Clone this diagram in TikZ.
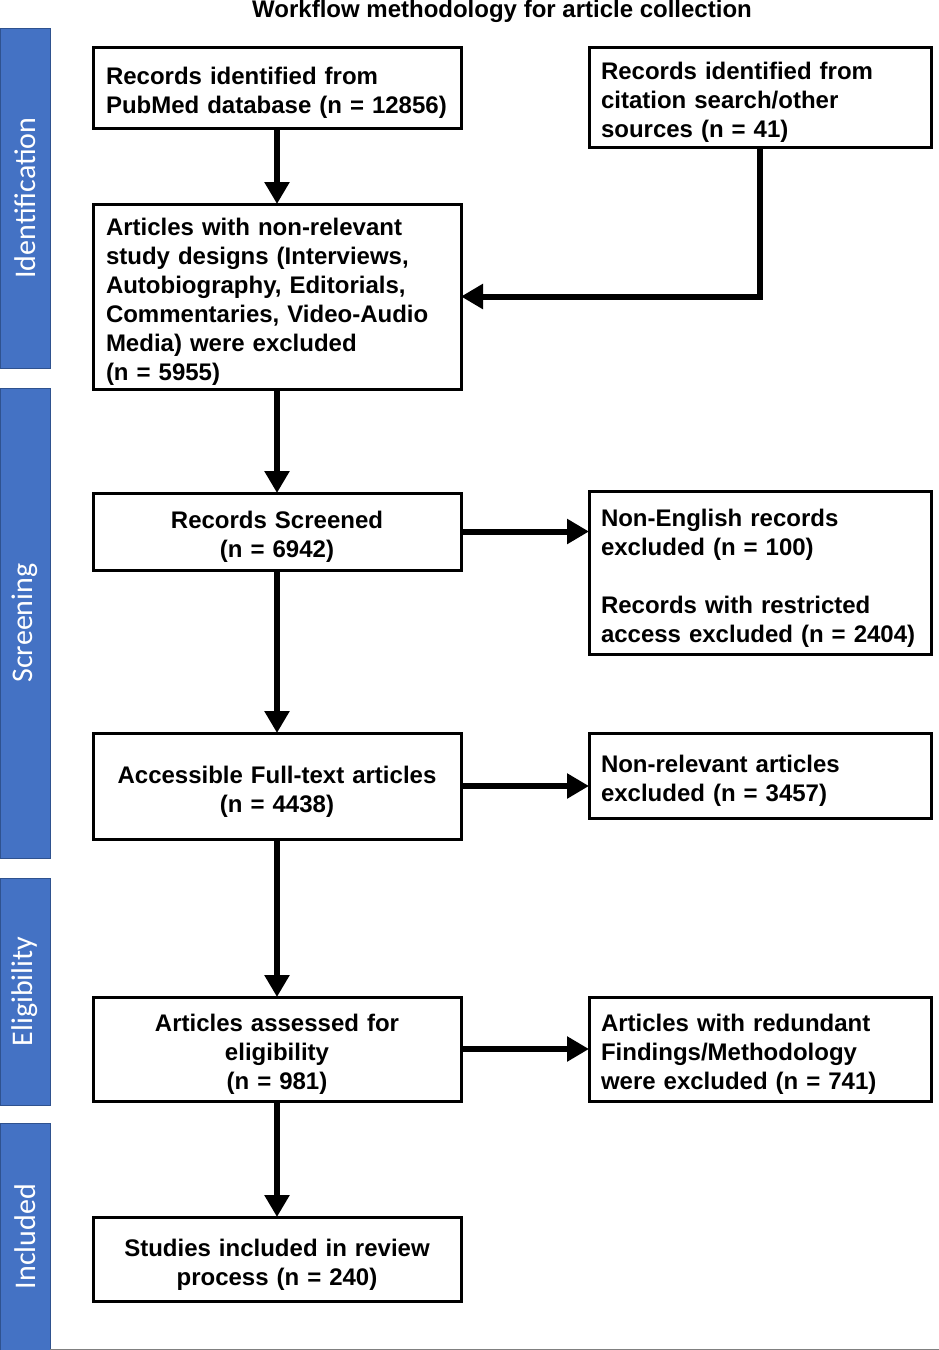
\documentclass[tikz,border=0pt]{standalone}
\usepackage{fontspec}
\setmainfont{Liberation Sans}
\newfontfamily\sidefont{Carlito}
\usetikzlibrary{positioning,arrows.meta}
\definecolor{stageblue}{HTML}{4472C4}
\definecolor{stageedge}{HTML}{2F528F}

\begin{document}
\begin{tikzpicture}[x=1pt,y=-1pt,font=\fontsize{24}{29}\selectfont\bfseries]
    \tikzstyle{box}=[rectangle,draw=black,line width=3pt,anchor=north west,inner ysep=0pt,outer sep=0pt,execute at begin node={\rule{0pt}{28pt}}]
    \tikzstyle{left box}=[box,text width=342pt,inner xsep=13pt,align=left]
    \tikzstyle{mid box}=[box,text width=342pt,inner xsep=13pt,align=center]
    \tikzstyle{right box}=[box,text width=318pt,inner xsep=12pt,align=left]
    \tikzstyle{stage}=[rectangle,draw=stageedge,fill=stageblue,line width=1pt,rotate=90,minimum height=50pt,inner sep=0pt,outer sep=0pt,text=white,font=\fontsize{30}{36}\selectfont\sidefont]
    \tikzstyle{arr}=[line width=6pt,-{Triangle[length=22pt,width=24pt]}]

    \useasboundingbox (0,0) rectangle (939,1350);

    \node (title) at (502,11) {Workflow methodology for article collection};

    % stages
    \node[stage,minimum width=340pt] (identL) at (25,198) {Identification};
    \node[stage,minimum width=470pt] (screenL) at (25,623) {Screening};
    \node[stage,minimum width=227pt] (eligL) at (25,991.5) {Eligibility};
    \node[stage,minimum width=227pt] (inclL) at (25,1236.5) {Included};

    % main column
    \node[left box,minimum height=81pt] (pubmed) at (93,47) {Records identified from\\PubMed database (n = 12856)};
    \node[left box,minimum height=185pt] (designs) at (93,204) {Articles with non-relevant\\study designs (Interviews,\\Autobiography, Editorials,\\Commentaries, Video-Audio\\Media) were excluded\\(n = 5955)};
    \node[mid box,minimum height=77pt] (screened) at (93,493) {Records Screened\\(n = 6942)};
    \node[mid box,minimum height=106pt] (fulltext) at (93,733) {Accessible Full-text articles\\(n = 4438)};
    \node[mid box,minimum height=104pt] (assessed) at (93,997) {Articles assessed for\\eligibility\\(n = 981)};
    \node[mid box,minimum height=84pt] (included) at (93,1217) {Studies included in review\\process (n = 240)};

    % side column
    \node[right box,minimum height=100pt] (other) at (589,47) {Records identified from\\citation search/other\\sources (n = 41)};
    \node[right box,minimum height=163pt] (nonenglish) at (589,491) {Non-English records\\excluded (n = 100)\\[29pt]Records with restricted\\access excluded (n = 2404)};
    \node[right box,minimum height=85pt] (nonrelevant) at (589,733) {Non-relevant articles\\excluded (n = 3457)};
    \node[right box,minimum height=104pt] (redundant) at (589,997) {Articles with redundant\\Findings/Methodology\\were excluded (n = 741)};

    \draw[arr] (pubmed) -- (designs);
    \draw[arr] (other.south) |- (designs.east);
    \draw[arr] (designs) -- (screened);
    \draw[arr] (screened) -- (fulltext);
    \draw[arr] (fulltext) -- (assessed);
    \draw[arr] (assessed) -- (included);

    \draw[arr] (screened.east) -- (screened.east -| nonenglish.west);
    \draw[arr] (fulltext.east) -- (fulltext.east -| nonrelevant.west);
    \draw[arr] (assessed.east) -- (assessed.east -| redundant.west);

    \draw[gray,line width=1pt] (inclL.south east |- 0,1349) -- (939,1349);
\end{tikzpicture}
\end{document}
